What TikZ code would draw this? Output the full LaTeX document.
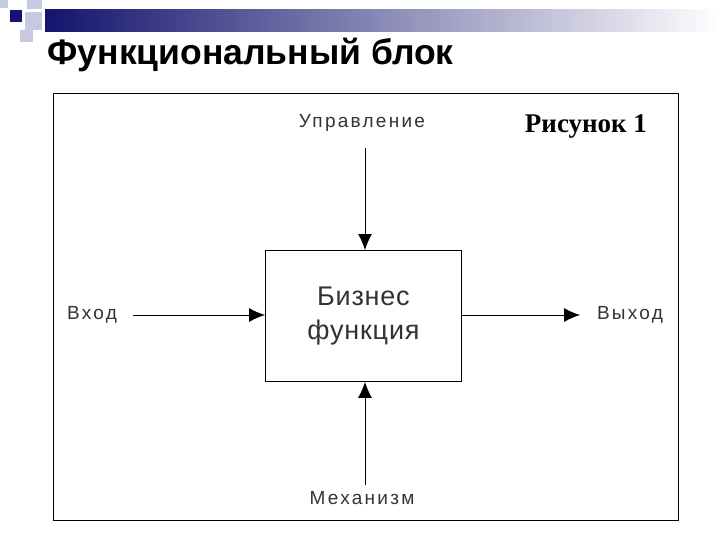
\documentclass[tikz,border=0pt]{standalone}
\usepackage{fontspec}
\setmainfont{Liberation Sans}
\newfontfamily\serifb{Liberation Serif}
\newfontfamily\widesans[LetterSpace=12]{Liberation Sans}
\newfontfamily\midsans[LetterSpace=3]{Liberation Sans}
\usetikzlibrary{arrows.meta}
\definecolor{navy}{RGB}{20,20,110}
\definecolor{lav}{RGB}{200,200,225}
\begin{document}
\begin{tikzpicture}[x=1pt,y=-1pt,
  lbl/.style={font=\widesans\fontsize{19}{22}\selectfont, text=black!80},
  arr/.style={-{Latex[length=16pt,width=14pt]}, line width=0.9pt}]
\useasboundingbox (0,0) rectangle (720,540);
\fill[white] (0,0) rectangle (720,540);
% decoration
\shade[left color=navy, right color=white] (45,10) rectangle (720,32);
\fill[lav] (0,0) rectangle (8,8);
\fill[lav] (27,0) rectangle (42,9);
\fill[lav] (25,12) rectangle (42,30);
\fill[lav] (20,30) rectangle (33,42);
\fill[navy] (10,10) rectangle (22,22);
\node[anchor=west, font=\bfseries\fontsize{35.5}{40}\selectfont] (title) at (44,55) {Функциональный блок};
% frame
\node[draw, line width=0.8pt, minimum width=625, minimum height=427, anchor=north west] (frame) at (53,93) {};
\node[draw, line width=0.9pt, minimum width=196, minimum height=131, anchor=north west, align=center,
  font=\midsans\fontsize{27}{34}\selectfont, text=black!80] (box) at (265,250) {Бизнес\\функция};
\node[lbl] (ctl) at (362,123) {Управление};
\node[lbl] (in) at (92,315) {Вход};
\node[lbl] (out) at (630,315) {Выход};
\node[lbl] (mech) at (362,498) {Механизм};
\node[font=\serifb\bfseries\fontsize{27}{30}\selectfont] (fig) at (586,127) {Рисунок 1};
\coordinate (c1) at (365,148);
\coordinate (i1) at (133,315);
\coordinate (o1) at (580,315);
\coordinate (m1) at (365,485);
\draw[arr] (c1) -- (c1 |- box.north);
\draw[arr] (i1) -- (box.west |- i1);
\draw[arr] (box.east |- o1) -- (o1);
\draw[arr] (m1) -- (m1 |- box.south);
\end{tikzpicture}
\end{document}
